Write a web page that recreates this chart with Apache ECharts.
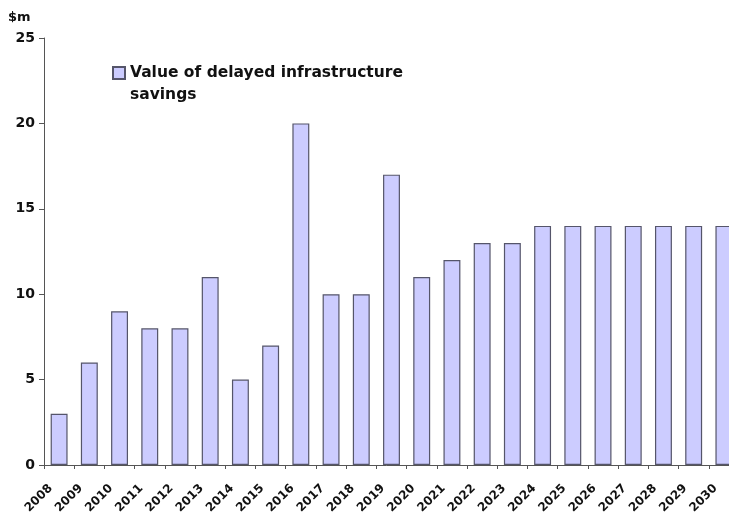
<!DOCTYPE html>
<html>
<head>
<meta charset="utf-8">
<script src="https://cdn.jsdelivr.net/npm/echarts@6/dist/echarts.min.js"></script>
<style>
html,body{margin:0;padding:0;background:#fff;}
#chart{width:729px;height:513px;}
</style>
</head>
<body>
<div id="chart"></div>
<script>
const years = ['2008','2009','2010','2011','2012','2013','2014','2015','2016','2017','2018','2019',
  '2020','2021','2022','2023','2024','2025','2026','2027','2028','2029','2030'];
const savings = [3,6,9,8,8,11,5,7,20,10,10,17,11,12,13,13,14,14,14,14,14,14,14];
const seriesName = 'Value of delayed infrastructure\nsavings';
const unitLabel = '$m';

const FONT = 'DejaVu Sans, Verdana, sans-serif';
const chart = echarts.init(document.getElementById('chart'));
chart.setOption({
  animation: false,
  backgroundColor: '#fff',
  textStyle: { fontFamily: FONT },
  // the plot runs past the right edge, so the last column is clipped
  grid: { left: 44, top: 38, width: 695, height: 427, containLabel: false, outerBoundsMode: 'none' },
  legend: {
    left: 112, top: 40, padding: 0,
    itemWidth: 12, itemHeight: 12,
    icon: 'rect',
    // a blank leading line keeps the swatch level with the first text line
    formatter: name => '\n' + name,
    textStyle: { fontSize: 15.5, fontWeight: 'bold', color: '#111', lineHeight: 22, fontFamily: FONT },
    data: [seriesName]
  },
  graphic: [{
    type: 'text', left: 8, top: 11,
    style: { text: unitLabel, font: 'bold 13px ' + FONT, fill: '#111' }
  }],
  xAxis: {
    type: 'category', data: years,
    axisLine: { lineStyle: { color: '#555', width: 1 } },
    axisTick: { show: true, length: 4, lineStyle: { color: '#555' } },
    axisLabel: { rotate: 45, interval: 0, fontSize: 12, fontWeight: 'bold', color: '#111', margin: 13,
                 padding: [0, 12, 0, 0], fontFamily: FONT }
  },
  yAxis: {
    type: 'value', min: 0, max: 25, interval: 5,
    splitLine: { show: false },
    axisLine: { show: true, lineStyle: { color: '#555', width: 1 } },
    axisTick: { show: true, length: 5, lineStyle: { color: '#555' } },
    axisLabel: { fontSize: 14, fontWeight: 'bold', color: '#111', margin: 9, fontFamily: FONT }
  },
  series: [{
    name: seriesName, type: 'bar', data: savings, barWidth: '56%',
    itemStyle: { color: '#CCCCFF', borderColor: '#55556a', borderWidth: 1.2 }
  }]
});
</script>
</body>
</html>
